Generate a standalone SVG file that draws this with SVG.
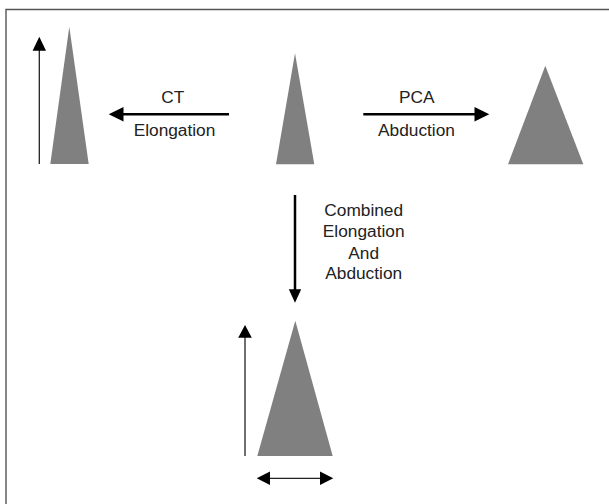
<svg xmlns="http://www.w3.org/2000/svg" width="609" height="504" viewBox="0 0 609 504">
<style>
.tri{fill:#808080;stroke:none}
.thick{stroke:#000;stroke-width:2.5;fill:none}
.thin{stroke:#222;stroke-width:1.3;fill:none}
.head{fill:#000}
.lbl{font-family:"Liberation Sans",Arial,sans-serif;font-size:17.3px;fill:#222;text-anchor:middle}
.frame{stroke:#555;stroke-width:1.4;fill:none}
</style>
<rect width="609" height="504" fill="#fff"/>
<path class="frame" d="M6,504 V9.5 H609"/>
<g id="left-shape">
<polygon class="tri" points="69.3,26.7 88.7,164 50.3,164"/>
</g>
<g id="center-shape">
<polygon class="tri" points="295,53.3 314.3,164.3 276,164.3"/>
</g>
<g id="right-shape">
<polygon class="tri" points="545.3,65.7 583.3,164.3 508,164.3"/>
</g>
<g id="bottom-shape">
<polygon class="tri" points="295.3,320.7 332.7,456 257.3,456"/>
</g>
<g id="connectors">
<line class="thin" x1="39.3" y1="164" x2="39.3" y2="48"/>
<polygon class="head" points="39.3,36.7 46,50.7 32.6,50.7"/>
<line class="thick" x1="229" y1="114.3" x2="120" y2="114.3"/>
<polygon class="head" points="108.7,114.3 123.5,107 123.5,121.6"/>
<line class="thick" x1="363.3" y1="114.3" x2="477" y2="114.3"/>
<polygon class="head" points="489.3,114.3 474.5,107 474.5,121.6"/>
<line class="thick" x1="295" y1="195" x2="295" y2="292"/>
<polygon class="head" points="295,302.7 288.8,289.3 301.2,289.3"/>
<line class="thin" x1="245" y1="456" x2="245" y2="335"/>
<polygon class="head" points="245,325 251.8,337.7 238.2,337.7"/>
<line class="thin" x1="266" y1="478.3" x2="324" y2="478.3"/>
<polygon class="head" points="256.7,478.3 270,471.6 270,485"/>
<polygon class="head" points="333.3,478.3 320,471.6 320,485"/>
</g>
<g id="labels">
<text class="lbl" x="172.7" y="102.7">CT</text>
<text class="lbl" x="174.5" y="136">Elongation</text>
<text class="lbl" x="416.7" y="102.7">PCA</text>
<text class="lbl" x="416.5" y="136">Abduction</text>
<text class="lbl" x="363.7" y="216">Combined</text>
<text class="lbl" x="363.7" y="237">Elongation</text>
<text class="lbl" x="363.7" y="258.5">And</text>
<text class="lbl" x="363.7" y="279.3">Abduction</text>
</g>
</svg>
